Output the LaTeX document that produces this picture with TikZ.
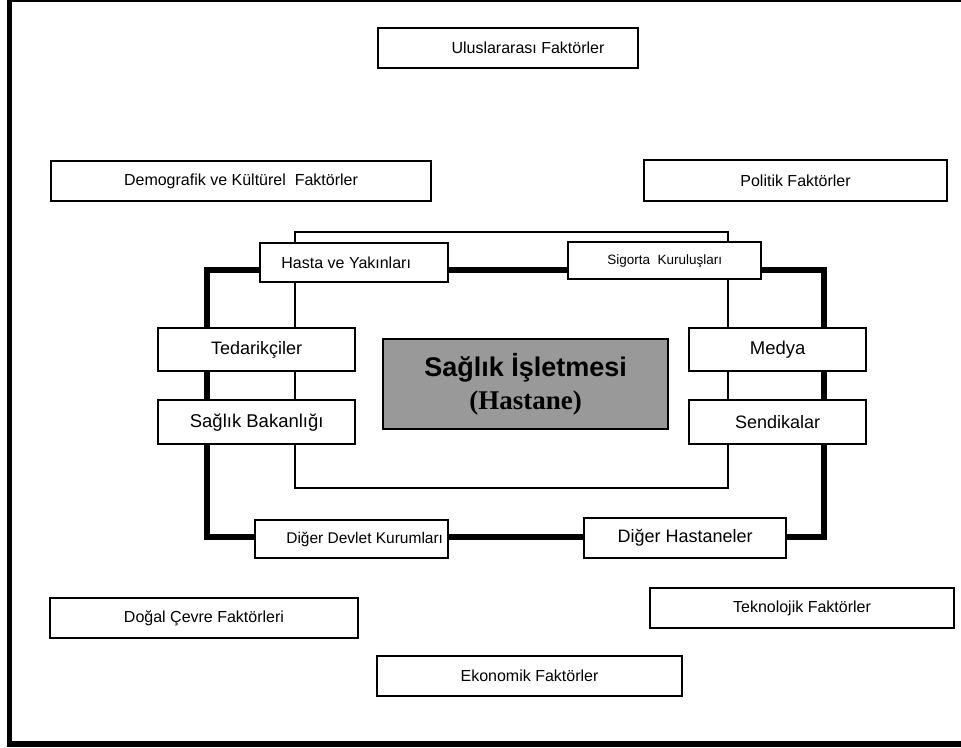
\documentclass[tikz,border=0pt]{standalone}
\usepackage{fontspec}
\setmainfont{Liberation Sans}
\newfontfamily\timesfont{Liberation Serif}
\usetikzlibrary{backgrounds}
\definecolor{coregray}{RGB}{153,153,153}
\tikzset{
  obox/.style={draw=black, line width=2pt, fill=white, anchor=north west, inner sep=0pt, font=\fontsize{16}{19}\selectfont},
  ibox/.style={draw=black, line width=2.4pt, fill=white, anchor=north west, inner sep=0pt},
  corebox/.style={draw=black, line width=2.4pt, fill=coregray, anchor=north west, inner sep=0pt, align=center},
  thickline/.style={line width=6pt, line join=miter},
  thinline/.style={line width=2pt},
  framethick/.style={line width=5.5pt},
}
\begin{document}
\begin{tikzpicture}[x=1pt,y=-1pt]
\useasboundingbox (0,0) rectangle (961,747);
% frame
\draw[line width=2pt] (7,1) -- (961,1);
\draw[framethick] (9.5,0) -- (9.5,747);
\draw[line width=6pt] (7,744) -- (961,744);

% outer factor boxes
\node[obox, minimum width=260pt, minimum height=40pt] (ulus) at (377,27) {\hspace*{40pt}Uluslararası Faktörler};
\node[obox, minimum width=380pt, minimum height=40pt] (demo) at (50,160) {Demografik ve Kültürel\ \ Faktörler};
\node[obox, minimum width=303pt, minimum height=41pt] (poli) at (643,159) {Politik Faktörler};
\node[obox, minimum width=308pt, minimum height=40pt] (doga) at (49,597) {Doğal Çevre Faktörleri};
\node[obox, minimum width=304pt, minimum height=40pt] (tekn) at (649,587) {Teknolojik Faktörler};
\node[obox, minimum width=305pt, minimum height=40pt] (ekon) at (376,655) {Ekonomik Faktörler};

% inner stakeholder boxes
\node[ibox, minimum width=188pt, minimum height=39pt, font=\fontsize{16}{19}\selectfont] (hasta) at (259,242) {Hasta ve Yakınları\hspace*{16pt}};
\node[ibox, minimum width=193pt, minimum height=37pt, font=\fontsize{13.5}{16}\selectfont] (sigo) at (567,241) {Sigorta\ \ Kuruluşları};
\node[ibox, minimum width=197pt, minimum height=43pt, font=\fontsize{18}{21}\selectfont] (ted) at (157,327) {Tedarikçiler};
\node[ibox, minimum width=197pt, minimum height=44pt, font=\fontsize{18.5}{21}\selectfont] (bak) at (157,399) {Sağlık Bakanlığı};
\node[ibox, minimum width=193pt, minimum height=38pt, font=\fontsize{15.5}{18}\selectfont] (devlet) at (254,519) {\hspace*{26pt}Diğer Devlet Kurumları};
\node[ibox, minimum width=177pt, minimum height=43pt, font=\fontsize{18.5}{21}\selectfont] (medya) at (688,327) {Medya};
\node[ibox, minimum width=177pt, minimum height=44pt, font=\fontsize{18}{21}\selectfont] (send) at (688,399) {Sendikalar};
\node[ibox, minimum width=202pt, minimum height=40pt, font=\fontsize{18}{21}\selectfont] (hast) at (583,517) {Diğer Hastaneler};

% core
\node[corebox, minimum width=285pt, minimum height=90pt] (core) at (382,338)
  {{\fontsize{27}{30}\selectfont\bfseries Sağlık İşletmesi}\\[8pt]{\timesfont\fontsize{27}{30}\selectfont\bfseries (Hastane)}};

% connectors
\coordinate (tl) at (207,270);
\coordinate (tr) at (824,270);
\coordinate (bl) at (207,537);
\coordinate (br) at (824,537);
\coordinate (itl) at (295,232);
\coordinate (itr) at (728,232);
\coordinate (ibl) at (295,488);
\coordinate (ibr) at (728,488);
\begin{scope}[on background layer]
  \draw[thinline] (ibl) -- (itl) -- (itr) -- (ibr) -- cycle;
  \draw[thickline] (bl) -- (tl) -- (tr) -- (br) -- cycle;
\end{scope}
\end{tikzpicture}
\end{document}
